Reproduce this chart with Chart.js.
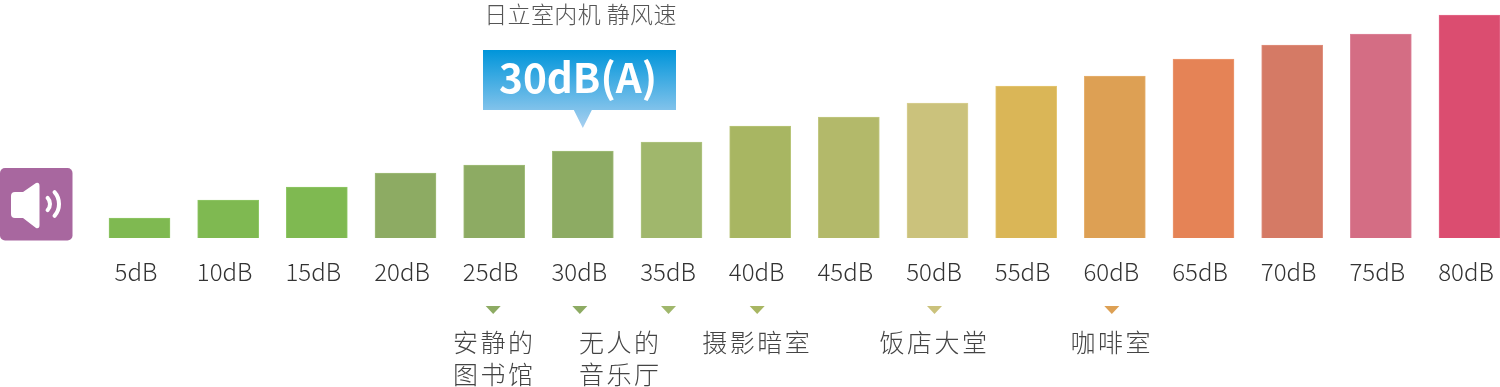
<!DOCTYPE html>
<html><head><meta charset="utf-8">
<style>html,body{margin:0;padding:0;background:#fff;overflow:hidden}canvas{display:block}</style>
<script src="https://cdn.jsdelivr.net/npm/chart.js@4/dist/chart.umd.js"></script>
</head><body><canvas id="c" width="1500" height="387"></canvas>
<script>
const categories=['5dB','10dB','15dB','20dB','25dB','30dB','35dB','40dB','45dB','50dB','55dB','60dB','65dB','70dB','75dB','80dB'];
const loudness=[20,38,51,65,73,87,96,112,121,135,152,162,179,193,204,223];
const barColors=['#7fb951','#7fb951','#7fb951','#8dab63','#8dab63','#8dab63','#a0b76c','#a8b662','#b3b96a','#cbc27c','#dab657','#dda054','#e58356','#d57a65','#d46d84','#db4d70'];
const barEdges=['#8fc766','#8fc766','#8fc766','#a0bc78','#a0bc78','#a0bc78','#b0c582','#b8c578','#c2c882','#d8cf92','#e4c672','#e6b06e','#ec9871','#df8f7d','#dd849a','#e36888'];
const noteMarkers=['25dB','30dB','35dB','40dB','50dB','60dB'];
const markerColors=['#8dab63','#8dab63','#a0b76c','#a8b662','#cbc27c','#dda054'];
const noteLines=[['安静的','图书馆'],['无人的','音乐厅'],['摄影暗室'],['饭店大堂'],['咖啡室']];
const titleText='日立室内机 静风速';
const calloutText='30dB(A)';
const calloutCategory='30dB';
const FONT='"Noto Sans CJK SC","Noto Sans",sans-serif';

const overlay={id:'overlay',afterDraw(chart){
  const ctx=chart.ctx,x=chart.scales.x,px=n=>x.getPixelForValue(categories.indexOf(n));
  ctx.save();
  // icon
  ctx.fillStyle='#a8679f';ctx.beginPath();ctx.roundRect(0,168,72.5,72.5,5);ctx.fill();
  ctx.fillStyle='#fff';ctx.strokeStyle='#fff';
  ctx.beginPath();ctx.moveTo(15,192);ctx.lineTo(23,192);ctx.lineTo(36,183);ctx.quadraticCurveTo(39.5,182,39.5,186);
  ctx.lineTo(39.5,225);ctx.quadraticCurveTo(39.5,229,36,228);ctx.lineTo(23,218);ctx.lineTo(15,218);ctx.quadraticCurveTo(11,218,11,214);ctx.lineTo(11,196);ctx.quadraticCurveTo(11,192,15,192);ctx.fill();
  ctx.lineCap='round';ctx.lineWidth=4;
  ctx.beginPath();ctx.arc(41,204,9,-0.75,0.75);ctx.stroke();
  ctx.beginPath();ctx.arc(41,204,18,-0.72,0.72);ctx.stroke();
  // title
  ctx.textBaseline='middle';ctx.textAlign='center';
  ctx.font='300 23px '+FONT;ctx.fillStyle='#555';ctx.letterSpacing='0.4px';
  ctx.fillText(titleText,580.5,14);ctx.letterSpacing='0px';
  // callout
  const cx=px(calloutCategory);
  const g=ctx.createLinearGradient(0,50,0,128);g.addColorStop(0,'#0095da');g.addColorStop(1,'#a8d0f0');
  ctx.fillStyle=g;ctx.beginPath();
  ctx.moveTo(483,50);ctx.lineTo(676,50);ctx.lineTo(676,110);ctx.lineTo(cx+9,110);ctx.lineTo(cx,128);ctx.lineTo(cx-9,110);ctx.lineTo(483,110);ctx.closePath();ctx.fill();
  ctx.font='700 40.5px '+FONT;ctx.fillStyle='#fff';ctx.fillText(calloutText,578,78);
  // markers
  noteMarkers.forEach((n,i)=>{const m=px(n)-(i<1?1:3);ctx.fillStyle=markerColors[i];ctx.beginPath();ctx.moveTo(m-7.5,306);ctx.lineTo(m+7.5,306);ctx.lineTo(m,314);ctx.closePath();ctx.fill();});
  // notes: centred between/under their categories
  ctx.font='300 25px '+FONT;ctx.fillStyle='#444';ctx.letterSpacing='2.5px';
  const centers=[px('25dB'),(px('30dB')+px('35dB'))/2-7,px('40dB')-3,px('50dB')-3,px('60dB')-3];
  noteLines.forEach((ls,i)=>ls.forEach((t,j)=>ctx.fillText(t,centers[i],342+j*32)));
  ctx.restore();
}};

new Chart(document.getElementById('c'),{
  type:'bar',
  data:{labels:categories,datasets:[{data:loudness,backgroundColor:barColors,borderColor:barEdges,borderWidth:1,barThickness:61,clip:false}]},
  options:{responsive:false,animation:false,
    layout:{padding:{left:139.5,right:30.5,top:0,bottom:0}},
    plugins:{legend:{display:false},tooltip:{enabled:false}},
    scales:{
      x:{offset:false,grid:{display:false},border:{display:false},
        ticks:{autoSkip:false,maxRotation:0,minRotation:0,padding:11,labelOffset:-3.5,color:'#333',font:{family:FONT,size:24,weight:'300'}},
        afterFit(s){s.height=149;s.paddingLeft=0;s.paddingRight=0;}},
      y:{display:false,min:0,max:238}
    }},
  plugins:[overlay]
});
</script></body></html>
